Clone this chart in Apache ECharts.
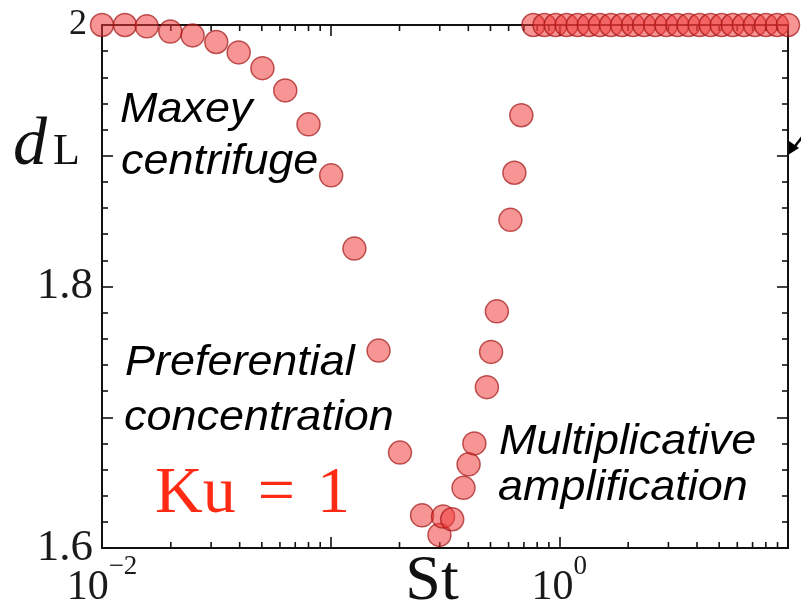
<!DOCTYPE html>
<html>
<head>
<meta charset="utf-8">
<script src="https://cdn.jsdelivr.net/npm/echarts@6/dist/echarts.min.js"></script>
<style>
  html, body { margin: 0; padding: 0; background: #ffffff; }
  #chart { width: 801px; height: 610px; }
</style>
</head>
<body>
<div id="chart"></div>
<script>
// Stokes numbers of the runs and the measured Lyapunov dimension d_L (Ku = 1)
var stValues = [
  0.01, 0.0126, 0.0157, 0.0199, 0.0249, 0.0316, 0.0396, 0.0503, 0.0633, 0.080,
  0.1005, 0.127, 0.162, 0.201, 0.251, 0.299, 0.310, 0.340, 0.381, 0.401,
  0.425, 0.482, 0.503, 0.533, 0.611, 0.636, 0.682,
  0.77, 0.861, 0.963, 1.076, 1.203, 1.345, 1.504, 1.681, 1.88, 2.101,
  2.349, 2.627, 2.936, 3.283, 3.67, 4.103, 4.587, 5.129, 5.734, 6.41,
  7.167, 8.012, 8.958, 10.0
];
var dValues = [
  2.0, 2.0, 1.999, 1.995, 1.992, 1.987, 1.979, 1.967, 1.950, 1.924,
  1.885, 1.829, 1.751, 1.673, 1.625, 1.610, 1.624, 1.622, 1.646, 1.664,
  1.680, 1.723, 1.750, 1.781, 1.851, 1.887, 1.931,
  2.0, 2.0, 2.0, 2.0, 2.0, 2.0, 2.0, 2.0, 2.0, 2.0,
  2.0, 2.0, 2.0, 2.0, 2.0, 2.0, 2.0, 2.0, 2.0, 2.0,
  2.0, 2.0, 2.0, 2.0
];

// Logarithmic minor tick positions on the St axis
var stMinorTicks = [
  0.02, 0.03, 0.04, 0.05, 0.06, 0.07, 0.08, 0.09,
  0.2, 0.3, 0.4, 0.5, 0.6, 0.7, 0.8, 0.9,
  2, 3, 4, 5, 6, 7, 8, 9
];

// Tick labels
var stTickLabels = { '0.01': ['10', '\u22122'], '1': ['10', '0'] };
var dTickLabels = { '2': '2', '1.8': '1.8', '1.6': '1.6' };

var serif = '"Liberation Serif", "DejaVu Serif", serif';
var sans = '"Liberation Sans", Arial, sans-serif';

var points = stValues.map(function (s, i) { return [s, dValues[i]]; });

function stLabel(v) {
  var keys = Object.keys(stTickLabels);
  for (var i = 0; i < keys.length; i++) {
    if (Math.abs(Math.log10(v) - Math.log10(parseFloat(keys[i]))) < 1e-6) {
      var p = stTickLabels[keys[i]];
      return '{b|' + p[0] + '}{s|' + p[1] + '}';
    }
  }
  return '';
}

function dLabel(v) {
  var k = (Math.round(v * 10) / 10).toString();
  if (k === '2') return '{t|2}';
  return dTickLabels[k] ? '{n|' + dTickLabels[k] + '}' : '';
}

// Italic annotation text, slightly widened
function note(text, x, y) {
  return {
    type: 'text', x: x, y: y, scaleX: 1.07, scaleY: 1,
    style: { text: text, x: 0, y: 0, font: 'italic 42px ' + sans, fill: '#000', align: 'left', verticalAlign: 'middle' }
  };
}

var chart = echarts.init(document.getElementById('chart'), null, { renderer: 'canvas' });

var tickLine = { color: '#111', width: 1.6 };

chart.setOption({
  animation: false,
  backgroundColor: '#ffffff',
  grid: { left: 102, right: 13, top: 25, bottom: 62 },
  xAxis: [
    {
      type: 'log', logBase: 10, min: 0.01, max: 10, position: 'bottom',
      axisLine: { show: true, lineStyle: { color: '#111', width: 2 } },
      axisTick: { show: true, inside: true, length: 11, lineStyle: tickLine },
      splitLine: { show: false },
      axisLabel: {
        show: true, margin: 5, formatter: stLabel, color: '#1a1a1a',
        rich: {
          b: { fontFamily: serif, fontSize: 42, color: '#1a1a1a', lineHeight: 56, verticalAlign: 'bottom' },
          s: { fontFamily: serif, fontSize: 27, color: '#1a1a1a', lineHeight: 27, verticalAlign: 'top' }
        }
      }
    },
    {
      type: 'log', logBase: 10, min: 0.01, max: 10, position: 'top',
      axisLine: { show: true, lineStyle: { color: '#111', width: 2 } },
      axisTick: { show: true, inside: true, length: 11, lineStyle: tickLine },
      splitLine: { show: false },
      axisLabel: { show: false }
    }
  ],
  yAxis: [
    {
      type: 'value', min: 1.6, max: 2.0, interval: 0.1, position: 'left',
      axisLine: { show: true, lineStyle: { color: '#111', width: 2 } },
      axisTick: { show: true, inside: true, length: 11, lineStyle: tickLine },
      minorTick: { show: true, splitNumber: 5, length: 6, lineStyle: tickLine },
      splitLine: { show: false },
      axisLabel: {
        show: true, margin: 9, formatter: dLabel,
        rich: {
          n: { fontFamily: serif, fontSize: 45, color: '#1a1a1a' },
          t: { fontFamily: serif, fontSize: 36, color: '#1a1a1a', padding: [0, 6, 0, 0] }
        }
      }
    },
    {
      type: 'value', min: 1.6, max: 2.0, interval: 0.1, position: 'right',
      axisLine: { show: true, lineStyle: { color: '#111', width: 2 } },
      axisTick: { show: true, inside: true, length: 11, lineStyle: tickLine },
      minorTick: { show: true, splitNumber: 5, length: 6, lineStyle: tickLine },
      splitLine: { show: false },
      axisLabel: { show: false }
    }
  ],
  series: [
    {
      // minor ticks of the log axis, on the bottom and top frame lines
      type: 'custom',
      xAxisIndex: 0, yAxisIndex: 0,
      data: stMinorTicks.map(function (v) { return [v]; }),
      encode: { x: 0 },
      silent: true,
      z: 1,
      renderItem: function (params, api) {
        var v = api.value(0);
        var b = api.coord([v, 1.6]);
        var t = api.coord([v, 2.0]);
        return {
          type: 'group',
          children: [
            { type: 'line', shape: { x1: b[0], y1: b[1], x2: b[0], y2: b[1] - 6 }, style: { stroke: '#111', lineWidth: 1.6 } },
            { type: 'line', shape: { x1: t[0], y1: t[1], x2: t[0], y2: t[1] + 6 }, style: { stroke: '#111', lineWidth: 1.6 } }
          ]
        };
      }
    },
    {
      type: 'scatter',
      xAxisIndex: 0, yAxisIndex: 0,
      data: points,
      symbol: 'circle',
      symbolSize: 23,
      clip: false,
      z: 5,
      itemStyle: {
        color: 'rgba(240, 60, 60, 0.68)',
        borderColor: 'rgba(160, 18, 18, 0.85)',
        borderWidth: 1.5
      }
    }
  ],
  graphic: [
    { type: 'text', style: { text: 'd', x: 13, y: 146, font: 'italic 68px ' + serif, fill: '#111', align: 'left', verticalAlign: 'middle' } },
    { type: 'text', style: { text: 'L', x: 53, y: 152, font: '44px ' + serif, fill: '#111', align: 'left', verticalAlign: 'middle' } },
    { type: 'text', style: { text: 'St', x: 432, y: 582, font: '64px ' + serif, fill: '#111', align: 'center', verticalAlign: 'middle' } },
    note('Maxey', 120, 110),
    note('centrifuge', 121, 162),
    note('Preferential', 125, 363),
    note('concentration', 124, 418),
    note('Multiplicative', 499, 442),
    note('amplification', 498, 488),
    { type: 'text', style: { text: 'Ku\u2004=\u20041', x: 155, y: 495, font: '66px ' + serif, fill: '#ff2a14', align: 'left', verticalAlign: 'middle' } },
    // pointer arriving at the right frame
    { type: 'line', shape: { x1: 803, y1: 136, x2: 792, y2: 150 }, style: { stroke: '#000', lineWidth: 2.5 } },
    { type: 'polygon', shape: { points: [[788, 155], [789, 141], [799, 148]] }, style: { fill: '#000' } }
  ]
});
</script>
</body>
</html>
